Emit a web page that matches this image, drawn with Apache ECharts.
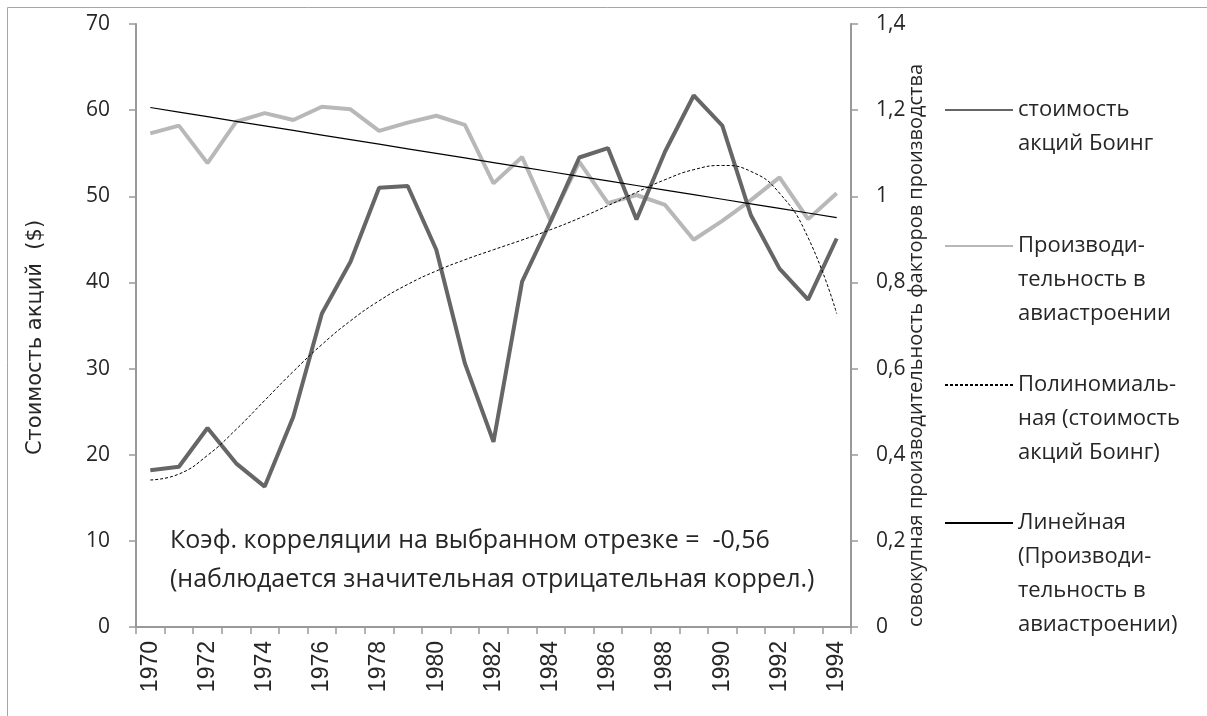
<!DOCTYPE html>
<html>
<head>
<meta charset="utf-8">
<script src="https://cdn.jsdelivr.net/npm/echarts@6/dist/echarts.min.js"></script>
<style>
  html, body { margin: 0; padding: 0; background: #fff; }
  #chart { width: 1207px; height: 716px; }
</style>
</head>
<body>
<div id="chart"></div>
<script>
// годы (категории оси X)
const years = ['1970', '1971', '1972', '1973', '1974', '1975', '1976', '1977', '1978', '1979',
  '1980', '1981', '1982', '1983', '1984', '1985', '1986', '1987', '1988', '1989',
  '1990', '1991', '1992', '1993', '1994'];
// стоимость акций Боинг, $
const stockPrice = [18.2, 18.6, 23.1, 19.0, 16.3, 24.4, 36.4, 42.4, 51.0, 51.2,
  43.8, 30.6, 21.5, 40.1, 47.1, 54.5, 55.6, 47.3, 55.2, 61.7,
  58.2, 47.8, 41.6, 38.0, 45.1];
// производительность в авиастроении
const productivity = [1.146, 1.164, 1.077, 1.173, 1.193, 1.177, 1.208, 1.202, 1.152, 1.171,
  1.187, 1.166, 1.030, 1.091, 0.943, 1.080, 0.984, 1.003, 0.980, 0.899,
  0.943, 0.991, 1.044, 0.947, 1.007];
const leftTicks = [0, 70, 10];
const rightTicks = [0, 1.4, 0.2];

// МНК-тренд (как в Excel: x = 1..n)
function polyfit(ys, order) {
  const n = ys.length;
  const mid = (n + 1) / 2, sc = n / 2;
  const xs = ys.map((_, i) => (i + 1 - mid) / sc);
  const m = order + 1;
  const A = [], b = [];
  for (let j = 0; j < m; j++) {
    A.push(new Array(m).fill(0));
    b.push(0);
  }
  xs.forEach((x, i) => {
    for (let j = 0; j < m; j++) {
      b[j] += Math.pow(x, j) * ys[i];
      for (let k = 0; k < m; k++) A[j][k] += Math.pow(x, j + k);
    }
  });
  for (let c = 0; c < m; c++) {
    let p = c;
    for (let r = c + 1; r < m; r++) if (Math.abs(A[r][c]) > Math.abs(A[p][c])) p = r;
    [A[c], A[p]] = [A[p], A[c]];
    [b[c], b[p]] = [b[p], b[c]];
    for (let r = c + 1; r < m; r++) {
      const f = A[r][c] / A[c][c];
      for (let k = c; k < m; k++) A[r][k] -= f * A[c][k];
      b[r] -= f * b[c];
    }
  }
  const coef = new Array(m).fill(0);
  for (let r = m - 1; r >= 0; r--) {
    let s = b[r];
    for (let k = r + 1; k < m; k++) s -= A[r][k] * coef[k];
    coef[r] = s / A[r][r];
  }
  return xs.map(x => coef.reduce((s, c, j) => s + c * Math.pow(x, j), 0));
}

const polyTrend = polyfit(stockPrice, 5);
const linTrend = polyfit(productivity, 1);

const commaFmt = v => String(+v.toFixed(1)).replace('.', ',');
const txt = '#262626';
const axisColor = '#999999';

const names = [
  'стоимость акций Боинг',
  'Производительность в авиастроении',
  'Полиномиальная (стоимость акций Боинг)',
  'Линейная (Производительность в авиастроении)'
];
const legendText = {};
legendText[names[0]] = ['стоимость', 'акций Боинг'];
legendText[names[1]] = ['Производи-', 'тельность в', 'авиастроении'];
legendText[names[2]] = ['Полиномиаль-', 'ная (стоимость', 'акций Боинг)'];
legendText[names[3]] = ['Линейная', '(Производи-', 'тельность в', 'авиастроении)'];
const legendIconY = [110, 246, 385, 523];
const LH = 34;

function makeLegend(idx) {
  const lines = legendText[names[idx]];
  const n = lines.length;
  return {
    data: [names[idx]],
    left: 944,
    top: legendIconY[idx] - (n - 0.5) * LH,
    orient: 'vertical',
    padding: 0,
    itemWidth: 68,
    itemHeight: 14,
    selectedMode: false,
    itemStyle: { opacity: 0 },
    formatter: () => new Array(n - 1).fill('').concat(lines).join('\n'),
    textStyle: { fontFamily: 'Open Sans', fontSize: 22, color: txt, lineHeight: LH }
  };
}

const chart = echarts.init(document.getElementById('chart'));
chart.setOption({
  animation: false,
  backgroundColor: '#fff',
  graphic: [{
    type: 'rect',
    shape: { x: 7.5, y: 7.5, width: 1300, height: 800 },
    style: { fill: 'none', stroke: '#a6a6a6', lineWidth: 1 },
    silent: true
  }],
  title: {
    text: 'Коэф. корреляции на выбранном отрезке =  -0,56\n(наблюдается значительная отрицательная коррел.)',
    left: 170,
    top: 521,
    padding: 0,
    textStyle: { fontFamily: 'Open Sans', fontSize: 25, fontWeight: 'normal', color: txt, lineHeight: 39 }
  },
  legend: [makeLegend(0), makeLegend(1), makeLegend(2), makeLegend(3)],
  grid: { left: 136, right: 356, top: 24, bottom: 89, containLabel: false },
  xAxis: {
    type: 'category',
    data: years,
    boundaryGap: true,
    axisLine: { lineStyle: { color: axisColor, width: 2 } },
    axisTick: { show: true, length: 7, interval: 0, lineStyle: { color: axisColor, width: 1.5 } },
    axisLabel: {
      interval: 1,
      rotate: 90,
      margin: 14,
      fontFamily: 'Liberation Sans',
      fontSize: 23,
      color: txt
    },
    splitLine: { show: false }
  },
  yAxis: [{
    type: 'value',
    min: leftTicks[0],
    max: leftTicks[1],
    interval: leftTicks[2],
    name: 'Стоимость акций  ($)',
    nameLocation: 'middle',
    nameRotate: 90,
    nameGap: 90,
    nameMoveOverlap: false,
    nameTextStyle: { fontFamily: 'DejaVu Sans', fontSize: 21, color: txt, padding: [0, 24, 0, 0] },
    axisLine: { show: true, lineStyle: { color: axisColor, width: 2 } },
    axisTick: { show: true, length: 7, lineStyle: { color: axisColor, width: 1.5 } },
    axisLabel: { margin: 26, fontFamily: 'Open Sans', fontSize: 21, color: txt },
    splitLine: { show: false }
  }, {
    type: 'value',
    position: 'right',
    min: rightTicks[0],
    max: rightTicks[1],
    interval: rightTicks[2],
    name: 'совокупная производительность факторов производства',
    nameLocation: 'middle',
    nameRotate: 90,
    nameGap: 55,
    nameMoveOverlap: false,
    nameTextStyle: { fontFamily: 'Open Sans', fontSize: 20, color: txt, padding: [0, 40, 0, 0] },
    axisLine: { show: true, lineStyle: { color: axisColor, width: 2 } },
    axisTick: { show: true, length: 7, lineStyle: { color: axisColor, width: 1.5 } },
    axisLabel: { margin: 25, fontFamily: 'Open Sans', fontSize: 21, color: txt, formatter: commaFmt },
    splitLine: { show: false }
  }],
  series: [{
    name: names[0],
    type: 'line',
    yAxisIndex: 0,
    data: stockPrice,
    symbol: 'none',
    color: '#666666',
    lineStyle: { color: '#666666', width: 4 },
    z: 3
  }, {
    name: names[1],
    type: 'line',
    yAxisIndex: 1,
    data: productivity,
    symbol: 'none',
    color: '#b8b8b8',
    lineStyle: { color: '#b8b8b8', width: 4 },
    z: 2
  }, {
    name: names[2],
    type: 'line',
    yAxisIndex: 0,
    data: polyTrend,
    smooth: true,
    symbol: 'none',
    color: '#000',
    lineStyle: { color: '#000', width: 1, type: [3, 2] },
    z: 4
  }, {
    name: names[3],
    type: 'line',
    yAxisIndex: 1,
    data: linTrend,
    symbol: 'none',
    color: '#000',
    lineStyle: { color: '#000', width: 1.2 },
    z: 4
  }]
});
</script>
</body>
</html>
